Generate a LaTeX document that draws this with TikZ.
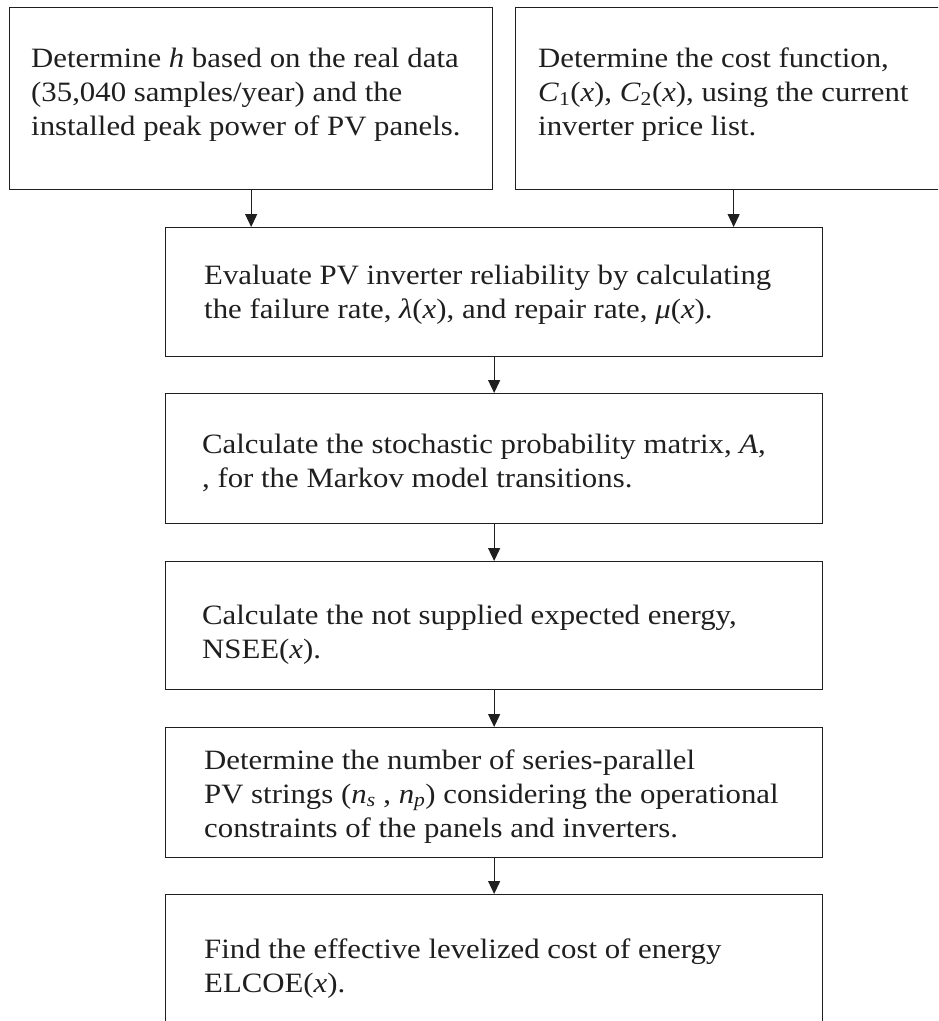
\documentclass[tikz,border=0pt]{standalone}
\usepackage{fontspec}
\setmainfont[FakeStretch=1.1]{Liberation Serif}
\usetikzlibrary{arrows.meta}
\begin{document}
\begin{tikzpicture}[x=1pt,y=-1pt,
  box/.style={draw=black!88, line width=1.3pt, inner sep=0pt, anchor=north west},
  lbl/.style={anchor=base west, inner sep=0pt, font=\fontsize{28}{34}\selectfont, align=left, text=black!88},
  arr/.style={draw=black!88, line width=1.3pt, -{Triangle[length=13pt,width=12pt]}}]
\useasboundingbox (0,0) rectangle (938,1021);
\clip (0,0) rectangle (938,1021);
\node[box, minimum width=483pt, minimum height=182pt] (b1) at (9,7) {};
\node[box, minimum width=436pt, minimum height=182pt] (b2) at (515,7) {};
\node[box, minimum width=657pt, minimum height=129pt] (b3) at (165,227) {};
\node[box, minimum width=657pt, minimum height=130pt] (b4) at (165,393) {};
\node[box, minimum width=657pt, minimum height=128pt] (b5) at (165,561) {};
\node[box, minimum width=657pt, minimum height=130pt] (b6) at (165,727) {};
\node[box, minimum width=657pt, minimum height=160pt] (b7) at (165,894) {};

\node[lbl] (t1) at (31,135) {Determine \textit{h} based on the real data\\(35,040 samples/year) and the\\installed peak power of PV panels.};
\node[lbl] (t2) at (538,135) {Determine the cost function,\\\textit{C}\textsubscript{1}(\textit{x}), \textit{C}\textsubscript{2}(\textit{x}), using the current\\inverter price list.};
\node[lbl] (t3) at (204,318) {Evaluate PV inverter reliability by calculating\\the failure rate, \textit{λ}(\textit{x}), and repair rate, \textit{μ}(\textit{x}).};
\node[lbl] (t4) at (202,487) {Calculate the stochastic probability matrix, \textit{A},\\, for the Markov model transitions.};
\node[lbl] (t5) at (202,658) {Calculate the not supplied expected energy,\\NSEE(\textit{x}).};
\node[lbl] (t6) at (204,837) {Determine the number of series-parallel\\PV strings (\textit{n}\textsubscript{\textit{s}} , \textit{n}\textsubscript{\textit{p}}) considering the operational\\constraints of the panels and inverters.};
\node[lbl] (t7) at (204,992) {Find the effective levelized cost of energy\\ELCOE(\textit{x}).};

\draw[arr] (b1.south) -- (b1.south |- b3.north);
\draw[arr] (b2.south) -- (b2.south |- b3.north);
\draw[arr] (b3.south) -- (b4.north);
\draw[arr] (b4.south) -- (b5.north);
\draw[arr] (b5.south) -- (b6.north);
\draw[arr] (b6.south) -- (b7.north);
\end{tikzpicture}
\end{document}
